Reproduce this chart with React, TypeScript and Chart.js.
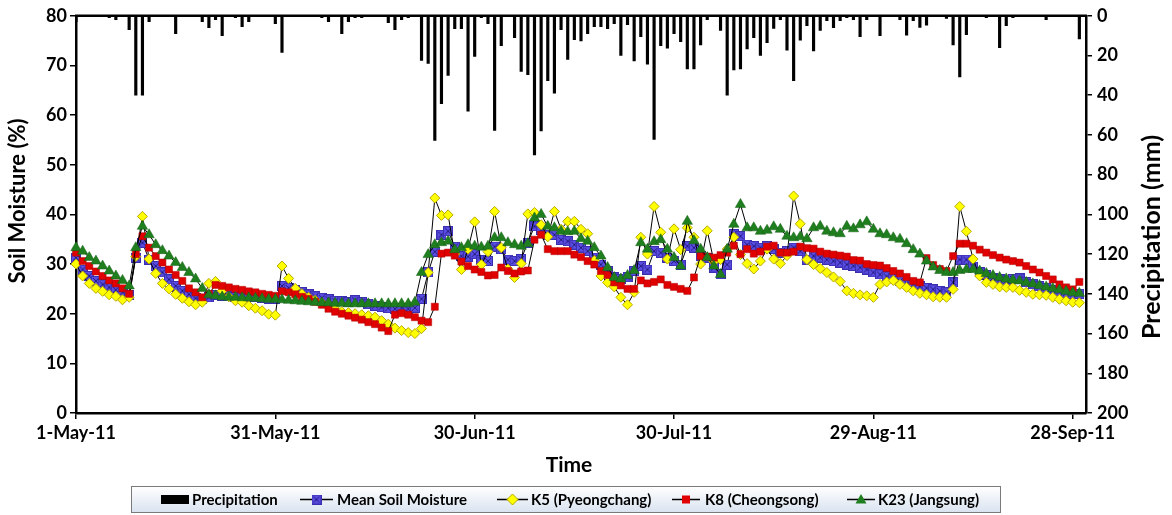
import React, { useEffect, useRef } from 'react';
import { Chart, registerables } from 'chart.js';

Chart.register(...registerables);

const FONT = 'Lato, "Open Sans", "DejaVu Sans", sans-serif';

// ---- categories: daily dates 1-May-11 .. 30-Sep-11 ----
const monthNames = ['Jan', 'Feb', 'Mar', 'Apr', 'May', 'Jun', 'Jul', 'Aug', 'Sep', 'Oct', 'Nov', 'Dec'];
const monthLengths = [31, 30, 31, 31, 30]; // May..Sep
const firstMonthIndex = 4;
const dateLabels: string[] = [];
monthLengths.forEach((len, m) => {
  for (let d = 1; d <= len; d++) dateLabels.push(`${d}-${monthNames[firstMonthIndex + m]}-11`);
});
const tickLabels = ['1-May-11', '31-May-11', '30-Jun-11', '30-Jul-11', '29-Aug-11', '28-Sep-11'];

// ---- series ----
const precipitation = [
  3, 0, 0, 0, 0, 1, 2, 0, 7, 40,
  40, 3, 0, 0, 0, 9, 0, 0, 0, 3,
  6, 2, 10, 0, 1, 5.5, 3, 0, 0, 0,
  4, 18.5, 0, 0, 0, 0, 0, 1, 3, 0,
  9, 3, 1, 1, 0, 0.5, 0, 3.5, 7, 2,
  1, 0, 22.5, 24, 62.7, 44.3, 30, 6.5, 6.5, 48,
  20.5, 1, 4, 57.7, 15, 0, 11, 28, 29.7, 70,
  58, 32.7, 39, 7, 22, 12, 12.7, 9, 5.5, 5.5,
  6.5, 4, 20, 4.5, 22.7, 10.5, 24.3, 62.3, 15, 16.3,
  9, 13, 26.7, 26.7, 14.7, 2, 0, 7.3, 40, 27.3,
  26.7, 16.7, 11, 20, 13.5, 6.3, 2, 17.3, 32.7, 12.3,
  5, 17.7, 7.3, 2.5, 6, 2.5, 1, 2, 10.5, 2,
  0, 10, 0, 0, 2, 9.7, 2.5, 5.8, 4.7, 0,
  0, 1.3, 14.7, 30.8, 9.5, 0, 0, 1, 0, 16,
  5, 1, 0, 0, 0, 0, 2, 0, 0, 0,
  0, 11.7,
];

const meanSoilMoisture = [
  31.3, 28.9, 27.6, 26.6, 25.9, 25.3, 24.8, 24.3, 23.8, 31.3,
  34.3, 30.9, 29.6, 28.3, 26.9, 25.6, 24.6, 23.9, 23.1, 22.9,
  23.3, 23.8, 23.6, 23.5, 23.4, 23.5, 23.4, 23.3, 23.2, 23.0,
  23.0, 25.6, 25.2, 24.7, 24.3, 23.9, 23.5, 23.2, 22.9, 22.6,
  22.5, 22.3, 22.7, 22.3, 21.9, 21.6, 21.3, 21.1, 21.0, 21.2,
  21.0, 21.2, 23.0, 28.3, 32.5, 35.9, 36.6, 33.5, 31.6, 31.5,
  32.0, 30.8, 30.6, 33.5, 33.0, 30.9, 30.6, 31.0, 34.3, 37.6,
  36.9, 35.9, 35.9, 34.9, 34.6, 33.9, 33.3, 32.6, 31.3, 29.9,
  28.6, 27.3, 27.0, 27.3, 28.6, 29.6, 28.9, 32.6, 32.3, 31.3,
  30.6, 29.9, 33.6, 33.3, 31.6, 31.3, 29.3, 27.9, 29.9, 36.0,
  35.6, 33.9, 33.6, 33.3, 33.6, 33.0, 32.3, 32.6, 33.3, 32.6,
  30.9, 31.6, 31.3, 30.9, 30.6, 30.3, 29.9, 29.6, 29.3, 28.9,
  28.3, 27.9, 27.5, 27.1, 26.6, 26.2, 25.9, 25.5, 25.2, 24.9,
  24.6, 24.3, 26.3, 30.9, 30.9, 29.5, 28.3, 27.8, 27.2, 26.9,
  26.6, 27.0, 27.1, 26.3, 25.9, 25.5, 25.2, 24.8, 24.5, 24.2,
  24.0, 24.0,
];

const k5Pyeongchang = [
  30.0, 27.6, 26.1, 25.1, 24.5, 23.8, 23.5, 22.8, 23.3, 31.5,
  39.6, 31.0, 28.1, 26.1, 25.0, 23.9, 23.1, 22.4, 21.8, 22.3,
  26.1, 26.5, 24.6, 23.4, 22.6, 22.3, 21.6, 21.1, 20.6, 19.9,
  19.7, 29.6, 27.1, 25.1, 24.0, 23.3, 22.7, 22.2, 21.6, 21.0,
  20.4, 20.2, 20.0, 19.8, 19.6, 19.3, 18.6, 17.9, 17.1, 16.6,
  16.2, 16.0, 17.0, 28.3, 43.3, 39.8, 39.9, 32.0, 28.9, 33.0,
  38.5, 29.9, 32.5, 40.6, 33.3, 29.0, 27.3, 30.1, 40.1, 40.4,
  37.9, 35.5, 40.6, 37.0, 38.6, 38.6, 37.0, 36.1, 30.7, 27.6,
  26.3, 25.4, 23.3, 21.8, 24.3, 35.4, 32.0, 41.6, 36.4, 31.0,
  37.1, 32.9, 37.3, 35.4, 30.0, 36.7, 30.5, 30.9, 33.0, 35.4,
  31.9, 30.1, 29.0, 30.6, 33.0, 31.0, 30.1, 31.7, 43.7, 38.1,
  30.9, 29.9, 29.1, 28.3, 27.4, 26.5, 24.6, 24.1, 23.8, 23.6,
  23.3, 25.9, 26.4, 26.7, 25.9, 25.3, 24.6, 24.1, 23.8, 23.4,
  23.3, 23.3, 24.9, 41.6, 36.6, 31.0, 27.6, 26.3, 25.9, 25.4,
  25.3, 25.3, 24.7, 24.3, 23.9, 23.8, 23.7, 23.3, 22.9, 22.6,
  22.3, 22.2,
];

const k8Cheongsong = [
  32.3, 30.6, 29.6, 28.5, 27.6, 26.7, 26.1, 25.1, 24.0, 32.0,
  35.6, 33.3, 31.6, 30.3, 28.9, 27.8, 26.6, 25.1, 24.3, 23.3,
  24.0, 25.8, 25.6, 25.3, 25.0, 24.8, 24.5, 24.3, 24.0, 23.8,
  23.6, 24.5, 24.3, 23.9, 23.4, 23.0, 22.4, 21.8, 21.0, 20.4,
  20.0, 19.6, 19.2, 18.8, 18.3, 17.9, 17.2, 16.5, 19.8, 20.1,
  19.8, 19.3, 18.6, 18.3, 21.4, 32.1, 32.3, 31.7, 30.5, 29.6,
  28.9, 28.4, 27.7, 27.8, 29.3, 28.6, 28.1, 28.5, 28.7, 34.9,
  35.9, 33.0, 32.6, 32.6, 32.6, 31.9, 31.4, 30.6, 29.9, 28.6,
  27.8, 26.3, 25.7, 25.0, 25.0, 26.7, 26.1, 26.4, 26.9, 25.8,
  25.4, 25.0, 24.6, 27.3, 31.6, 31.5, 31.3, 31.8, 32.3, 33.7,
  32.0, 33.0, 32.1, 32.5, 33.5, 33.7, 32.3, 32.3, 32.5, 33.5,
  33.2, 33.1, 32.5, 32.1, 31.9, 31.7, 31.5, 30.8, 30.7, 30.0,
  29.8, 29.7, 29.2, 28.6, 28.1, 27.4, 26.6, 26.3, 31.2, 29.8,
  29.0, 28.6, 31.6, 34.1, 34.1, 33.7, 32.9, 32.3, 31.8, 31.3,
  30.9, 30.6, 30.3, 29.6, 28.9, 28.3, 27.6, 26.9, 25.9, 25.3,
  24.9, 26.4,
];

const k23Jangsung = [
  33.3, 32.6, 31.3, 30.6, 29.6, 28.6, 27.6, 26.7, 25.6, 33.3,
  37.6, 35.9, 33.9, 32.7, 31.6, 30.3, 29.3, 28.3, 27.0, 25.1,
  23.8, 23.6, 23.4, 23.3, 23.3, 23.2, 23.2, 23.1, 23.0, 22.9,
  22.9, 22.8, 22.7, 22.6, 22.5, 22.4, 22.3, 22.2, 22.2, 22.1,
  22.1, 22.0, 22.0, 22.0, 22.0, 22.0, 22.0, 22.0, 22.0, 22.0,
  22.0, 22.3, 28.3, 31.9, 33.9, 34.3, 34.6, 32.9, 33.3, 33.9,
  33.6, 33.4, 33.6, 35.3, 35.3, 34.3, 33.9, 33.6, 34.1, 39.3,
  40.0, 37.6, 37.3, 36.6, 36.5, 36.6, 35.1, 34.6, 33.3, 31.6,
  29.3, 27.3, 27.0, 27.7, 28.7, 34.3, 33.0, 34.5, 34.9, 33.0,
  31.3, 29.6, 38.6, 34.7, 33.0, 31.3, 29.6, 27.9, 33.0, 38.0,
  42.0, 37.3, 37.3, 36.6, 36.8, 37.5, 37.0, 35.6, 35.3, 35.5,
  35.1, 37.3, 37.6, 36.6, 36.3, 36.1, 37.6, 37.1, 37.9, 38.5,
  37.0, 36.1, 35.9, 35.3, 35.0, 34.1, 32.9, 32.0, 30.6, 29.4,
  28.7, 28.3, 28.3, 28.7, 28.9, 28.9, 28.6, 28.1, 27.7, 27.3,
  27.0, 26.8, 26.6, 26.3, 26.0, 25.7, 25.4, 25.1, 24.8, 24.5,
  24.2, 24.1,
];

const seriesNames = ['Precipitation', 'Mean Soil Moisture', 'K5 (Pyeongchang)', 'K8 (Cheongsong)', 'K23 (Jangsung)'];

const COLORS = {
  mean: '#5a4de3',
  meanEdge: '#3a2fb0',
  k5: '#ffff00',
  k5Edge: '#b8a800',
  k8: '#e00000',
  k8Edge: '#b00000',
  k23: '#1f7f1f',
  k23Edge: '#176017',
};

function makeSquareX(): HTMLCanvasElement {
  const c = document.createElement('canvas');
  c.width = 10;
  c.height = 10;
  const g = c.getContext('2d')!;
  g.fillStyle = COLORS.mean;
  g.fillRect(0.5, 0.5, 9, 9);
  g.strokeStyle = COLORS.meanEdge;
  g.lineWidth = 1;
  g.strokeRect(0.5, 0.5, 9, 9);
  g.strokeStyle = '#221c80';
  g.beginPath();
  g.moveTo(2, 2);
  g.lineTo(8, 8);
  g.moveTo(8, 2);
  g.lineTo(2, 8);
  g.stroke();
  return c;
}

function drawLegendMarker(ctx: CanvasRenderingContext2D, kind: string, x: number, y: number, sqx: HTMLCanvasElement) {
  ctx.save();
  ctx.lineWidth = 1;
  if (kind === 'mean') {
    ctx.drawImage(sqx, x - 5, y - 5);
  } else if (kind === 'k5') {
    ctx.beginPath();
    ctx.moveTo(x, y - 5.5);
    ctx.lineTo(x + 5.5, y);
    ctx.lineTo(x, y + 5.5);
    ctx.lineTo(x - 5.5, y);
    ctx.closePath();
    ctx.fillStyle = COLORS.k5;
    ctx.strokeStyle = COLORS.k5Edge;
    ctx.fill();
    ctx.stroke();
  } else if (kind === 'k8') {
    ctx.fillStyle = COLORS.k8;
    ctx.fillRect(x - 4, y - 4, 8, 8);
  } else if (kind === 'k23') {
    ctx.beginPath();
    ctx.moveTo(x, y - 5.5);
    ctx.lineTo(x + 5.5, y + 4);
    ctx.lineTo(x - 5.5, y + 4);
    ctx.closePath();
    ctx.fillStyle = COLORS.k23;
    ctx.fill();
  }
  ctx.restore();
}

export default function App() {
  const canvasRef = useRef<HTMLCanvasElement | null>(null);

  useEffect(() => {
    const canvas = canvasRef.current;
    if (!canvas) return;
    const sqx = makeSquareX();

    const decorPlugin = {
      id: 'decor',
      afterDatasetsDraw(chart: any) {
        const { ctx, chartArea } = chart;
        ctx.save();
        ctx.strokeStyle = '#000';
        ctx.lineWidth = 2.5;
        ctx.beginPath();
        ctx.moveTo(chartArea.left - 1, chartArea.top);
        ctx.lineTo(chartArea.right + 1, chartArea.top);
        ctx.stroke();
        ctx.restore();
      },
      afterDraw(chart: any) {
        const { ctx } = chart;
        ctx.save();
        ctx.fillStyle = '#000';
        ctx.textAlign = 'center';
        ctx.textBaseline = 'middle';
        // left title
        ctx.save();
        ctx.translate(18, 201);
        ctx.rotate(-Math.PI / 2);
        ctx.font = `bold 22px ${FONT}`;
        ctx.fillText('Soil Moisture (%)', 0, 0);
        ctx.restore();
        // right title
        ctx.save();
        ctx.translate(1152, 237);
        ctx.rotate(-Math.PI / 2);
        ctx.font = `bold 25px ${FONT}`;
        ctx.fillText('Precipitation (mm)', 0, 0);
        ctx.restore();
        // x title
        ctx.font = `bold 21px ${FONT}`;
        ctx.fillText('Time', 569, 465);

        // legend box
        const bx = 131.5, by = 486.5, bw = 869, bh = 26;
        const grad = ctx.createLinearGradient(0, by, 0, by + bh);
        grad.addColorStop(0, '#ffffff');
        grad.addColorStop(1, '#d9e3f0');
        ctx.fillStyle = grad;
        ctx.fillRect(bx, by, bw, bh);
        ctx.strokeStyle = '#7a7a7a';
        ctx.lineWidth = 1;
        ctx.strokeRect(bx, by, bw, bh);

        const ly = 499.5;
        const items = [
          { kind: 'bar', x0: 161, x1: 189, tx: 192 },
          { kind: 'mean', x0: 300, x1: 333, tx: 337 },
          { kind: 'k5', x0: 497, x1: 528, tx: 531 },
          { kind: 'k8', x0: 672, x1: 700, tx: 705 },
          { kind: 'k23', x0: 847, x1: 875, tx: 878 },
        ];
        ctx.font = `bold 15px ${FONT}`;
        ctx.textAlign = 'left';
        items.forEach((it, i) => {
          if (it.kind === 'bar') {
            ctx.fillStyle = '#000';
            ctx.fillRect(it.x0, ly - 4.5, it.x1 - it.x0, 9);
          } else {
            ctx.strokeStyle = '#000';
            ctx.lineWidth = 1.5;
            ctx.beginPath();
            ctx.moveTo(it.x0, ly);
            ctx.lineTo(it.x1, ly);
            ctx.stroke();
            drawLegendMarker(ctx, it.kind, (it.x0 + it.x1) / 2, ly, sqx);
          }
          ctx.fillStyle = '#000';
          ctx.fillText(seriesNames[i], it.tx, ly + 0.5);
        });
        ctx.restore();
      },
    };

    const lineCommon = {
      type: 'line' as const,
      yAxisID: 'y',
      borderColor: '#000',
      borderWidth: 1,
      tension: 0,
      clip: false as const,
      pointBorderWidth: 1,
    };

    const chart = new Chart(canvas, {
      type: 'bar',
      data: {
        labels: dateLabels,
        datasets: [
          {
            type: 'bar',
            label: seriesNames[0],
            data: precipitation,
            yAxisID: 'y2',
            backgroundColor: '#000',
            barThickness: 2.5,
            order: 5,
          } as any,
          {
            ...lineCommon,
            label: seriesNames[1],
            data: meanSoilMoisture,
            pointStyle: sqx,
            pointRadius: 5,
            order: 4,
          },
          {
            ...lineCommon,
            label: seriesNames[2],
            data: k5Pyeongchang,
            pointStyle: 'rectRot',
            pointRadius: 5,
            pointBackgroundColor: COLORS.k5,
            pointBorderColor: COLORS.k5Edge,
            order: 3,
          },
          {
            ...lineCommon,
            label: seriesNames[3],
            data: k8Cheongsong,
            pointStyle: 'rect',
            pointRadius: 5,
            pointBackgroundColor: COLORS.k8,
            pointBorderColor: COLORS.k8Edge,
            pointBorderWidth: 0.5,
            order: 2,
          },
          {
            ...lineCommon,
            label: seriesNames[4],
            data: k23Jangsung,
            pointStyle: 'triangle',
            pointRadius: 6,
            pointBackgroundColor: COLORS.k23,
            pointBorderColor: COLORS.k23Edge,
            pointBorderWidth: 0.5,
            order: 1,
          },
        ],
      },
      options: {
        responsive: false,
        animation: false,
        devicePixelRatio: 1,
        layout: { padding: { top: 13, left: 0, right: 0, bottom: 0 } },
        plugins: {
          legend: { display: false },
          tooltip: { enabled: false },
        },
        scales: {
          x: {
            type: 'category',
            offset: false,
            grid: {
              display: true,
              drawOnChartArea: false,
              drawTicks: true,
              tickLength: 6,
              color: '#000',
              lineWidth: 1.5,
              offset: false,
            },
            border: { display: true, color: '#000', width: 2.5 },
            ticks: {
              autoSkip: false,
              maxRotation: 0,
              minRotation: 0,
              padding: 3,
              color: '#000',
              font: { family: FONT, size: 18, weight: 'bold' },
              callback: (_v: any, i: number) => (tickLabels.includes(dateLabels[i]) && i % 30 === 0 ? dateLabels[i] : null),
            },
            afterFit: (s: any) => {
              s.height = 102;
            },
          },
          y: {
            type: 'linear',
            position: 'left',
            min: 0,
            max: 80,
            grid: { display: true, drawOnChartArea: false, tickLength: 6, color: '#000', lineWidth: 1.5 },
            border: { display: true, color: '#000', width: 2.5 },
            ticks: {
              stepSize: 10,
              padding: 3,
              color: '#000',
              font: { family: FONT, size: 18, weight: 'bold' },
            },
            afterFit: (s: any) => {
              s.width = 76;
            },
          },
          y2: {
            type: 'linear',
            position: 'right',
            min: 0,
            max: 200,
            reverse: true,
            grid: { display: true, drawOnChartArea: false, tickLength: 6, color: '#000', lineWidth: 1.5 },
            border: { display: true, color: '#000', width: 2.5 },
            ticks: {
              stepSize: 20,
              padding: 5,
              color: '#000',
              font: { family: FONT, size: 18, weight: 'bold' },
            },
            afterFit: (s: any) => {
              s.width = 86;
            },
          },
        },
      } as any,
      plugins: [decorPlugin],
    });

    return () => {
      chart.destroy();
    };
  }, []);

  return (
    <div style={{ position: 'fixed', left: 0, top: 0, width: 1172, height: 515, background: '#fff' }}>
      <canvas ref={canvasRef} width={1172} height={515} style={{ display: 'block' }} />
    </div>
  );
}
